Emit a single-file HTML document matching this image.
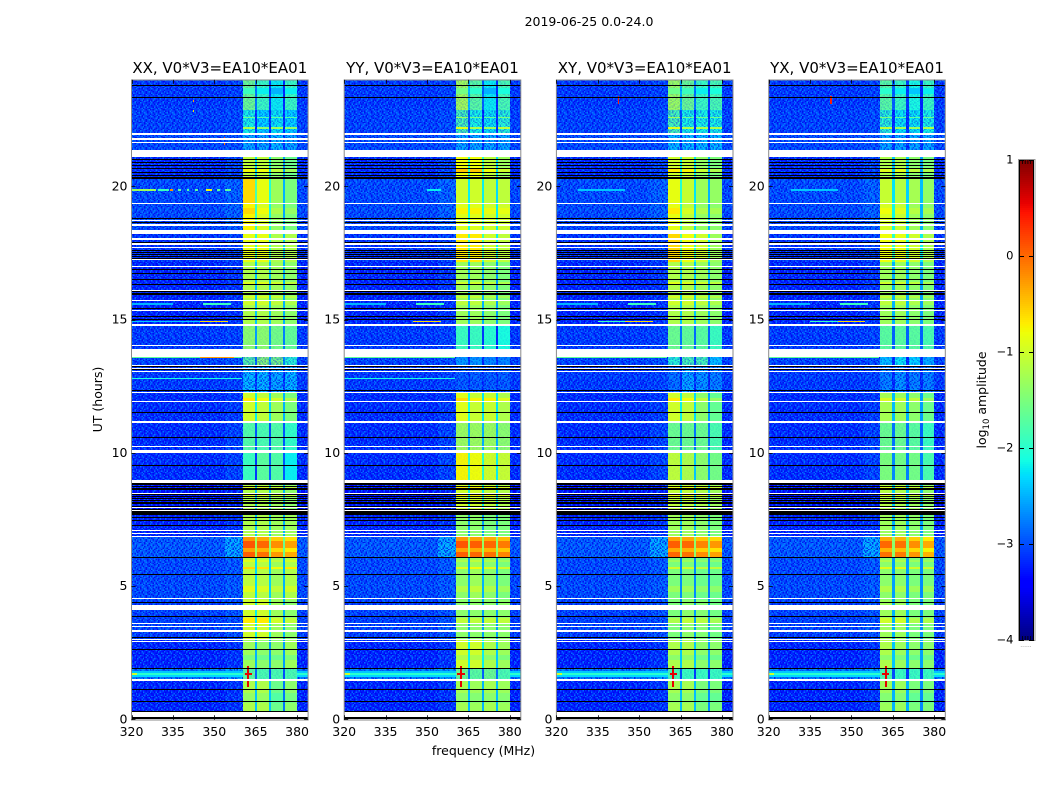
<!DOCTYPE html>
<html lang="en">
<head>
<meta charset="utf-8">
<title>2019-06-25 0.0-24.0</title>
<style>
html,body{margin:0;padding:0;background:#fff;}
svg{display:block;}
text{font-family:"DejaVu Sans","Liberation Sans",sans-serif;fill:#000;}
</style>
</head>
<body>
<svg id="figure" xmlns="http://www.w3.org/2000/svg" width="1050" height="800" viewBox="0 0 1050 800">
  <rect x="0" y="0" width="1050" height="800" fill="#fff"/>
  <defs><pattern id="speckle" patternUnits="userSpaceOnUse" x="0" y="0" width="28" height="28"></pattern></defs>
  <text x="589" y="26" font-size="12.5" text-anchor="middle">2019-06-25 0.0-24.0</text>
  <text x="483.5" y="755" font-size="12.5" text-anchor="middle">frequency (MHz)</text>
  <text transform="translate(102,399.5) rotate(-90)" font-size="12.5" text-anchor="middle">UT (hours)</text>
  <text transform="translate(986,400) rotate(-90)" font-size="12.5" text-anchor="middle">log<tspan font-size="8.5" dy="3">10</tspan><tspan dy="-3"> amplitude</tspan></text>
  <g id="panels"></g>
  <g id="colorbar"></g>
  <text x="1026" y="647" font-size="6" text-anchor="middle" style="fill:#888">......</text>
</svg>
<script>
// ---------- chart data ----------
const panelTitles = ["XX, V0*V3=EA10*EA01", "YY, V0*V3=EA10*EA01", "XY, V0*V3=EA10*EA01", "YX, V0*V3=EA10*EA01"];
const freqTicks = [320, 335, 350, 365, 380];
const hourTicks = [0, 5, 10, 15, 20];
const colorTicks = [-4, -3, -2, -1, 0, 1];

// Frequency edges (MHz) of the channel groups and which band section each group uses
const channelEdges = [320, 354, 360.5, 364.7, 365.6, 369.9, 370.7, 375, 375.8, 380, 384];
const channelRole = ["bg", "near", "s0", "dip", "s1", "dip", "s2", "dip", "s3", "bg"];

// Upper hour of each time region, from 24h downward
const regionTopHour = [24, 22.86, 22.0, 21.13, 20.31, 19.34, 18.36, 17.16, 14.80, 13.88, 13.21, 12.28, 11.12, 10.0, 8.98, 7.74, 6.87, 6.09, 4.48, 2.98, 1.93, 1.48];
// log10 amplitude outside the band, per region
const backgroundLevels = [-3.1, -3.05, -3.0, -3.2, -3.0, -3.0, -3.15, -3.25, -3.1, -3.05, -3.1, -3.2, -3.2, -3.2, -3.35, -3.25, -2.9, -3.0, -3.05, -3.25, -2.7, -3.25];
const nearBandLevels = [-3.05, -3.0, -2.95, -3.05, -2.85, -2.85, -3.05, -3.15, -3.05, -3.0, -3.05, -3.1, -3.05, -3.05, -3.25, -3.15, -2.45, -2.9, -2.95, -3.15, -2.5, -3.15];
// Strength of pixel noise showing through the band, per region
const inBandNoise = [0.25, 0.55, 0.8, 0, 0, 0, 0, 0, 0.1, 0.5, 0.85, 0, 0.1, 0.05, 0, 0, 0, 0, 0, 0, 0.15, 0];

// Band-section levels (four sections) per region, per polarisation
const levelsXX = [[-1.6,-1.9,-2.2,-1.9],[-2.1,-2.3,-2.2,-2.3],[-2.5,-2.5,-2.4,-2.5],[-1.1,-1.1,-1.4,-1.6],[-0.6,-0.85,-1.3,-1.5],[-0.75,-0.95,-1.35,-1.5],[-0.85,-0.85,-1.2,-1.2],[-1.2,-1.2,-1.3,-1.4],[-1.4,-1.4,-1.55,-1.65],[-1.7,-1.4,-1.5,-2.0],[-2.4,-2.4,-2.5,-2.4],[-1.0,-1.1,-1.3,-1.5],[-1.75,-1.8,-1.75,-1.95],[-1.9,-1.7,-1.75,-2.2],[-1.2,-1.2,-1.3,-1.4],[-1.2,-1.2,-1.3,-1.3],[-0.1,-0.2,-0.4,-0.5],[-1.1,-1.15,-1.3,-1.2],[-1.0,-1.0,-1.3,-1.4],[-1.3,-1.4,-1.4,-1.3],[-1.7,-1.8,-1.8,-1.8],[-1.2,-1.2,-1.6,-1.4]];
const levelsYY = [[-1.25,-1.7,-2.2,-1.8],[-1.8,-2.1,-2.2,-2.0],[-2.5,-2.5,-2.5,-2.5],[-0.8,-0.8,-1.1,-1.3],[-1.0,-1.0,-1.1,-1.1],[-0.9,-0.9,-1.0,-1.0],[-0.7,-0.7,-1.0,-1.1],[-1.3,-1.3,-1.4,-1.5],[-1.9,-1.9,-2.0,-2.1],[-2.6,-2.6,-2.7,-2.7],[-2.9,-2.9,-2.9,-2.9],[-0.9,-1.05,-1.05,-1.2],[-1.3,-1.3,-1.3,-1.4],[-0.75,-0.8,-1.0,-1.05],[-1.0,-1.0,-1.1,-1.2],[-1.4,-1.4,-1.5,-1.5],[-0.1,-0.15,-0.2,-0.3],[-1.4,-1.3,-1.4,-1.5],[-1.4,-1.4,-1.4,-1.4],[-1.0,-1.0,-1.2,-1.3],[-1.6,-1.7,-1.6,-1.8],[-1.25,-1.3,-1.25,-1.3]];
const levelsXY = [[-1.3,-1.6,-1.9,-1.8],[-1.8,-2.1,-2.1,-2.1],[-2.4,-2.4,-2.4,-2.4],[-1.0,-1.05,-1.35,-1.5],[-0.85,-1.05,-1.3,-1.35],[-0.85,-1.1,-1.35,-1.4],[-0.6,-0.8,-1.0,-1.3],[-1.2,-1.2,-1.3,-1.4],[-1.6,-1.65,-1.7,-1.9],[-2.0,-1.8,-1.8,-2.4],[-2.8,-2.5,-2.6,-2.7],[-1.0,-1.1,-1.4,-1.65],[-1.6,-1.6,-1.6,-1.8],[-1.1,-1.2,-1.4,-1.55],[-1.1,-1.1,-1.2,-1.3],[-1.3,-1.3,-1.4,-1.5],[-0.15,-0.2,-0.35,-0.45],[-1.5,-1.5,-1.6,-1.6],[-1.5,-1.4,-1.45,-1.55],[-1.2,-1.2,-1.4,-1.4],[-1.8,-1.9,-1.9,-1.9],[-1.25,-1.25,-1.5,-1.5]];
const levelsYX = [[-1.7,-1.9,-2.1,-1.9],[-2.0,-2.2,-2.2,-2.1],[-2.5,-2.5,-2.5,-2.5],[-1.2,-1.2,-1.4,-1.5],[-1.05,-1.15,-1.25,-1.35],[-0.95,-1.05,-1.3,-1.4],[-0.8,-0.85,-1.0,-1.2],[-1.3,-1.3,-1.4,-1.5],[-1.7,-1.7,-1.7,-1.8],[-2.4,-2.2,-2.3,-2.5],[-2.7,-2.6,-2.7,-2.7],[-1.25,-1.3,-1.4,-1.6],[-1.6,-1.6,-1.7,-1.9],[-1.5,-1.55,-1.55,-1.8],[-1.15,-1.2,-1.3,-1.4],[-1.3,-1.3,-1.4,-1.5],[-0.2,-0.25,-0.4,-0.55],[-1.4,-1.4,-1.5,-1.5],[-1.3,-1.3,-1.5,-1.5],[-1.2,-1.3,-1.4,-1.4],[-1.8,-1.9,-1.9,-1.9],[-1.3,-1.3,-1.5,-1.5]];
const panelLevels = [levelsXX, levelsYY, levelsXY, levelsYX];

// Flagged rows: white = no data, black = zero-amplitude data
const whiteRowHours = [[21.93,21.99],[21.75,21.82],[21.62,21.67],[21.19,21.36],[21.11,21.16],[19.34,19.37],[18.72,18.75],[18.53,18.57],[18.21,18.38],[17.98,18.05],[17.81,17.86],[17.70,17.73],[17.23,17.27],[16.99,17.02],[16.10,16.13],[15.70,15.73],[15.32,15.36],[14.77,14.83],[14.00,14.03],[13.61,13.88],[13.26,13.29],[13.16,13.20],[13.05,13.08],[12.24,12.28],[11.91,11.94],[11.13,11.20],[10.24,10.27],[10.00,10.12],[8.88,8.98],[8.48,8.51],[7.92,7.95],[7.83,7.85],[7.07,7.10],[6.98,7.01],[6.85,6.89],[4.51,4.55],[4.10,4.28],[3.59,3.62],[3.48,3.52],[3.29,3.35],[2.97,3.01],[2.90,2.94],[1.44,1.52],[0.08,0.29]];
const blackRowHours = [[23.79,23.82],[23.31,23.34],[20.98,21.04],[20.88,20.90],[20.77,20.79],[20.66,20.68],[20.53,20.55],[20.42,20.44],[20.27,20.34],[18.76,18.80],[18.65,18.68],[17.89,17.91],[17.57,17.60],[17.50,17.52],[17.43,17.45],[17.35,17.37],[17.29,17.31],[16.86,16.89],[16.74,16.76],[16.51,16.54],[16.30,16.33],[16.05,16.07],[15.99,16.01],[15.93,15.95],[15.38,15.45],[15.11,15.13],[14.98,15.01],[13.21,13.25],[13.11,13.14],[12.31,12.36],[11.52,11.55],[10.55,10.58],[9.54,9.56],[8.78,8.85],[8.72,8.74],[8.66,8.68],[8.60,8.63],[8.42,8.45],[8.34,8.37],[8.28,8.30],[8.21,8.24],[8.15,8.17],[8.07,8.10],[8.00,8.02],[7.87,7.89],[7.67,7.80],[7.58,7.61],[7.46,7.48],[7.28,7.30],[6.05,6.08],[5.41,5.44],[4.40,4.42],[3.86,3.89],[3.06,3.09],[2.61,2.64],[1.89,1.92],[1.11,1.14],[0.66,0.69],[0.29,0.32],[0,0.07]];

// Brightening of the whole band over short time ranges (top hour, bottom hour, delta)
const streakTop = [23.69, 22.60, 22.22, 20.68, 19.18, 16.41, 15.88, 15.70, 12.06, 8.75, 8.40, 8.12, 6.85, 6.69, 6.43, 6.28, 5.98, 5.71, 5.00, 3.80, 2.41, 0.98];
const streakBottom = [23.46, 22.55, 22.15, 20.53, 18.96, 16.33, 15.81, 15.54, 11.91, 8.68, 8.37, 8.10, 6.69, 6.43, 6.28, 6.09, 5.90, 5.64, 4.78, 3.61, 2.22, 0.61];
const streakDelta = [-0.3, 0.5, 0.9, 0.3, 0.15, 0.3, 0.25, 0.2, 0.3, 0.3, 0.3, 0.3, -0.15, 0.2, -0.2, 0.15, 0.2, 0.5, 0.2, 0.3, -0.2, -0.15];

// Narrow interference rows outside the band
const rfiPanels = ["0", "0", "0", "0", "0", "0", "0", "0", "0", "1", "23", "0123", "0123", "0", "23", "0123", "0123", "0", "01", "0123", "0123", "0123", "0123", "0123", "0123", "0123"];
const rfiHour = [19.86, 19.86, 19.86, 19.86, 19.86, 19.86, 19.86, 19.86, 19.86, 19.86, 19.86, 15.58, 15.58, 14.92, 14.92, 14.92, 13.57, 13.57, 12.80, 1.78, 1.70, 1.62, 1.78, 1.70, 1.62, 1.70];
const rfiStart = [320, 329.5, 334, 337, 340, 343, 347, 351, 354, 350, 328, 320, 346, 320, 335, 345, 320, 345, 320, 320, 320, 320, 380, 380, 380, 320];
const rfiEnd = [329, 333.5, 335, 338, 341, 344, 349, 352, 356, 355, 345, 335, 356, 355, 345, 355, 360, 357, 360, 360.5, 360.5, 360.5, 384, 384, 384, 322];
const rfiLevel = [-1.3, -1.9, -0.2, -1.7, -1.7, -1.7, -0.8, -1.7, -1.7, -2.2, -2.4, -2.5, -1.9, -2.4, -1.9, -0.6, -1.7, -0.3, -2.1, -2.4, -2.0, -2.3, -2.4, -2.0, -2.3, -1.0];

// Isolated spikes: panels, frequency, top hour, bottom hour, width (MHz), level
const spikePanels = ["0123", "0123", "0", "0", "0", "0", "23"];
const spikeFreq = [362.0, 361.0, 342.3, 342.3, 353.5, 353.5, 342.3];
const spikeTop = [2.0, 1.75, 23.25, 22.85, 21.62, 21.85, 23.4];
const spikeBottom = [1.2, 1.66, 23.15, 22.8, 21.57, 21.82, 23.1];
const spikeWidth = [0.7, 2.6, 0.5, 0.5, 0.5, 0.5, 0.5];
const spikeLevel = [0.55, 0.55, -0.3, -0.6, -0.1, 0.2, 0.4];

// Fixed pixel-noise texture used for the grainy background
const noiseRows = ["10230120310201320123","02103201021320103210","31020213012013021032","01320102301231002301","20103210120301320120","13021032010213001320","02301201320102132013","10213020130231010201","32010312002103213020","01203120312010320103","20310201023201302130","03102310130120201021","12030213201032013200","30201002310201203121","01320213021310320010","21003120102032101302","10231302013100230213","03120010320213012030","20301231010320301102","13020103203101220310"];

// ---------- layout ----------
const SVGNS = "http://www.w3.org/2000/svg";
const panelLeft = [131.5, 344.2, 556.4, 768.7];
const panelWidth = 176.6;
const plotTop = 79.8, plotBottom = 719.3;
const freqMin = 320, freqMax = 384, hourMin = 0, hourMax = 24;
const barLeft = 1019, barRight = 1034, barTop = 160, barBottom = 640, colorMin = -4, colorMax = 1;

function xScale(p, f) { return panelLeft[p] + (f - freqMin) / (freqMax - freqMin) * panelWidth; }
function yScale(h) { return plotBottom - (h - hourMin) / (hourMax - hourMin) * (plotBottom - plotTop); }
function barScale(v) { return barBottom - (v - colorMin) / (colorMax - colorMin) * (barBottom - barTop); }

function interp(t, xs, ys) {
  if (t <= xs[0]) return ys[0];
  for (let i = 1; i < xs.length; i++) {
    if (t <= xs[i]) return ys[i - 1] + (t - xs[i - 1]) / (xs[i] - xs[i - 1]) * (ys[i] - ys[i - 1]);
  }
  return ys[ys.length - 1];
}
function jet(v) {
  const t = Math.max(0, Math.min(1, (v - colorMin) / (colorMax - colorMin)));
  const r = interp(t, [0, 0.35, 0.66, 0.89, 1], [0, 0, 1, 1, 0.5]);
  const g = interp(t, [0, 0.125, 0.375, 0.64, 0.91, 1], [0, 0, 1, 1, 0, 0]);
  const b = interp(t, [0, 0.11, 0.34, 0.65, 1], [0.5, 1, 1, 0, 0]);
  return "rgb(" + Math.round(r * 255) + "," + Math.round(g * 255) + "," + Math.round(b * 255) + ")";
}
function make(tag, parent, attrs) {
  const el = document.createElementNS(SVGNS, tag);
  for (const k in attrs) el.setAttribute(k, attrs[k]);
  parent.appendChild(el);
  return el;
}
function pixelBox(p, f0, f1, top, bottom) {
  const x0 = Math.round(xScale(p, f0));
  const x1 = Math.round(xScale(p, f1));
  const y0 = Math.round(yScale(top));
  const y1 = Math.round(yScale(bottom));
  return { x: x0, y: y0, width: Math.max(1, x1 - x0), height: Math.max(1, y1 - y0), "shape-rendering": "crispEdges" };
}
function regionAt(h) {
  let r = 0;
  for (let i = 0; i < regionTopHour.length; i++) if (h <= regionTopHour[i]) r = i;
  return r;
}

// ---------- noise texture ----------
const pattern = document.getElementById("speckle");
const noiseCell = 1.4;
const noiseFill = ["", "rgba(0,0,235,0.75)", "rgba(0,70,255,0.55)", "rgba(0,150,255,0.65)"];
noiseRows.forEach(function (row, j) {
  row.split("").forEach(function (ch, i) {
    const code = Number(ch);
    if (code === 0) return;
    make("rect", pattern, { x: i * noiseCell, y: j * noiseCell, width: noiseCell, height: noiseCell, fill: noiseFill[code], "shape-rendering": "crispEdges" });
  });
});

// ---------- panels ----------
const panelsGroup = document.getElementById("panels");
panelTitles.forEach(function (title, p) {
  const g = make("g", panelsGroup, {});
  
  
  const levels = panelLevels[p];

  // region x channel cells
  regionTopHour.forEach(function (top, r) {
    const bottom = r + 1 < regionTopHour.length ? regionTopHour[r + 1] : hourMin;
    channelRole.forEach(function (role, c) {
      let v;
      if (role === "bg") v = backgroundLevels[r];
      else if (role === "near") v = nearBandLevels[r];
      else if (role === "dip") {
        const section = levels[r][(c - 3) / 2];
        v = Math.max(-3.2, section - 1.2);
      } else v = levels[r][Number(role.slice(1))];
      const cell = make("rect", g, pixelBox(p, channelEdges[c], channelEdges[c + 1], top, bottom));
      cell.setAttribute("fill", jet(v));
      
      
    });
    // grain outside the band
    [[freqMin, 360.5, 1], [380, freqMax, 1], [360.5, 380, inBandNoise[r]]].forEach(function (span) {
      if (span[2] <= 0) return;
      const grain = make("rect", g, pixelBox(p, span[0], span[1], top, bottom));
      grain.setAttribute("fill", "url(#speckle)");
      grain.setAttribute("opacity", span[2]);
      
      
    });
  });

  // in-band streaks
  streakTop.forEach(function (top, s) {
    const r = regionAt((top + streakBottom[s]) / 2);
    [[360.5, 364.7], [365.6, 369.9], [370.7, 375], [375.8, 380]].forEach(function (span, sec) {
      const st = make("rect", g, pixelBox(p, span[0], span[1], top, streakBottom[s]));
      st.setAttribute("fill", jet(levels[r][sec] + streakDelta[s]));
      
      
    });
  });

  // interference rows
  rfiHour.forEach(function (h, i) {
    if (rfiPanels[i].indexOf(String(p)) < 0) return;
    const line = make("rect", g, pixelBox(p, rfiStart[i], rfiEnd[i], h + 0.025, h - 0.025));
    line.setAttribute("fill", jet(rfiLevel[i]));
    
    
  });

  // spikes
  spikeFreq.forEach(function (f, i) {
    if (spikePanels[i].indexOf(String(p)) < 0) return;
    const spike = make("rect", g, pixelBox(p, f, f + spikeWidth[i], spikeTop[i], spikeBottom[i]));
    spike.setAttribute("fill", jet(spikeLevel[i]));
    
    
  });

  // flagged rows
  whiteRowHours.forEach(function (span) {
    const row = make("rect", g, pixelBox(p, freqMin, freqMax, span[1], span[0]));
    row.setAttribute("fill", "#fff");
    
    
  });
  blackRowHours.forEach(function (span) {
    const row = make("rect", g, pixelBox(p, freqMin, freqMax, span[1], span[0]));
    row.setAttribute("fill", "#000");
    
    
  });

  // frame
  const frame = make("rect", g, { x: panelLeft[p], y: plotTop + 0.2, width: panelWidth, height: plotBottom - plotTop + 0.5, fill: "none", stroke: "#8a8a8a", "stroke-width": 1 });
  
  

  // ticks
  freqTicks.forEach(function (f) {
    const x = Math.round(xScale(p, f)) + 0.5;
    const bottomTick = make("line", g, { x1: x, x2: x, y1: plotBottom + 0.5, y2: plotBottom - 4, stroke: "#000", "stroke-width": 0.8 });
    
    
    const topTick = make("line", g, { x1: x, x2: x, y1: plotTop, y2: plotTop + 4, stroke: "#000", "stroke-width": 0.8 });
    
    
    const label = make("text", g, { x: xScale(p, f), y: 736, "font-size": 12.5, "text-anchor": "middle" });
    label.textContent = String(f);
    
    
  });
  hourTicks.forEach(function (h) {
    const y = Math.round(yScale(h)) + 0.5;
    const leftTick = make("line", g, { x1: panelLeft[p], x2: panelLeft[p] + 4, y1: y, y2: y, stroke: "#000", "stroke-width": 0.8 });
    
    
    const rightTick = make("line", g, { x1: panelLeft[p] + panelWidth, x2: panelLeft[p] + panelWidth - 4, y1: y, y2: y, stroke: "#000", "stroke-width": 0.8 });
    
    
    const label = make("text", g, { x: panelLeft[p] - 4, y: yScale(h) + 4, "font-size": 12.5, "text-anchor": "end" });
    label.textContent = String(h);
    
    
  });

  const heading = make("text", g, { x: panelLeft[p] + panelWidth / 2, y: 73, "font-size": 15, "text-anchor": "middle" });
  heading.textContent = title;
  
  
});

// ---------- colorbar ----------
const barGroup = document.getElementById("colorbar");
for (let py = barTop; py < barBottom; py += 2) {
  const v = colorMax - (py + 1 - barTop) / (barBottom - barTop) * (colorMax - colorMin);
  const seg = make("rect", barGroup, { x: barLeft, y: py, width: barRight - barLeft, height: 2, fill: jet(v), "shape-rendering": "crispEdges" });
  
  
}
const barFrame = make("rect", barGroup, { x: barLeft - 0.5, y: barTop - 0.5, width: barRight - barLeft + 1.5, height: barBottom - barTop + 1, fill: "none", stroke: "#9a9a9a", "stroke-width": 1 });


[barLeft + 0.5, barRight - 0.5].forEach(function (x) {
  const side = make("line", barGroup, { x1: x, x2: x, y1: barTop, y2: barBottom, stroke: "#000", "stroke-width": 1 });
  
  
});
colorTicks.forEach(function (v) {
  const y = Math.round(barScale(v)) + 0.5;
  const tickLeft = make("line", barGroup, { x1: barLeft, x2: barLeft + 5, y1: y, y2: y, stroke: "#000", "stroke-width": 1 });
  
  
  const tickRight = make("line", barGroup, { x1: barRight - 5, x2: barRight, y1: y, y2: y, stroke: "#000", "stroke-width": 1 });
  
  
  const label = make("text", barGroup, { x: 1013.5, y: barScale(v) + 3.5, "font-size": 11.5, "text-anchor": "end" });
  label.textContent = v < 0 ? "\u2212" + Math.abs(v) : String(v);
  
  
});
[0, 1, 2, 3, 4].forEach(function (i) {
  const x = barLeft + 3.5 + i * 2.7;
  const upper = make("line", barGroup, { x1: x, x2: x, y1: barTop, y2: barTop + 4, stroke: "#000", "stroke-width": 0.8 });
  
  
  const lower = make("line", barGroup, { x1: x, x2: x, y1: barBottom, y2: barBottom - 4, stroke: "#000", "stroke-width": 0.8 });
  
  
});
</script>
</body>
</html>
